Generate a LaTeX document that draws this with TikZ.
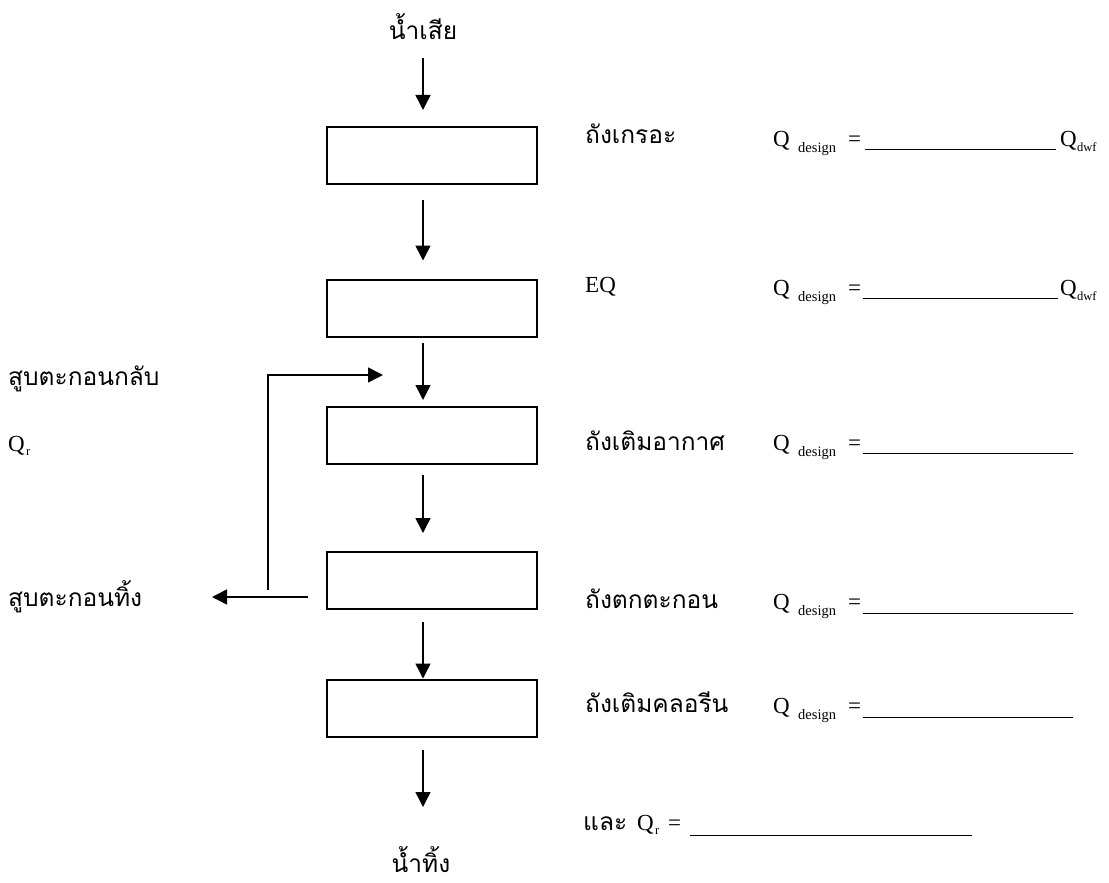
\documentclass[tikz,border=0pt]{standalone}
\usepackage{fontspec}
\setmainfont{Liberation Serif}
\newfontfamily\thai[Script=Thai]{Loma}
\usetikzlibrary{arrows.meta}
\newcommand\qdes[2]{%
  \node[lat] (#1q) at (773,#2) {Q};
  \node[subd] (#1s) at (798,{#2+6}) {design};
  \node[lat] (#1e) at (848,#2) {=};
}
\begin{document}
\begin{tikzpicture}[x=1pt,y=-1pt,
  tank/.style={draw, line width=2pt, minimum width=210pt, minimum height=57pt, inner sep=0pt, outer sep=0pt},
  flow/.style={line width=1.5pt, -{Triangle[length=15pt,width=15pt]}},
  pipe/.style={line width=1.5pt},
  th/.style={font=\thai\fontsize{24.5}{28}\selectfont, inner sep=0pt, anchor=base west},
  lat/.style={font=\fontsize{23}{27}\selectfont, inner sep=0pt, anchor=base west},
  subd/.style={font=\fontsize{14.5}{17}\selectfont, inner sep=0pt, anchor=base west},
  subs/.style={font=\fontsize{12.5}{14}\selectfont, inner sep=0pt, anchor=base west},
  blank/.style={line width=1pt}]
\useasboundingbox (0,0) rectangle (1109,883);
% tanks
\node[tank] (b1) at (432,155.5) {};
\node[tank] (b2) at (432,308) {};
\node[tank] (b3) at (432,435.5) {};
\node[tank] (b4) at (432,580.5) {};
\node[tank] (b5) at (432,708) {};
% in / out
\node[th, anchor=base] (inlbl) at (423,40) {น้ำเสีย};
\node[th, anchor=base] (outlbl) at (421,872) {น้ำทิ้ง};
\coordinate (src) at (423,58);
\coordinate (sink) at (423,807);
\draw[flow, shorten >=17pt] (src) -- (src |- b1.north);
\draw[flow, shorten <=16pt, shorten >=19pt] ([xshift=-9pt]b1.south) -- ([xshift=-9pt]b2.north);
\draw[flow, shorten <=6pt, shorten >=7pt] ([xshift=-9pt]b2.south) -- ([xshift=-9pt]b3.north);
\draw[flow, shorten <=11pt, shorten >=19pt] ([xshift=-9pt]b3.south) -- ([xshift=-9pt]b4.north);
\draw[flow, shorten <=13pt, shorten >=1pt] ([xshift=-9pt]b4.south) -- ([xshift=-9pt]b5.north);
\draw[flow, shorten <=13pt] (b5.south -| sink) -- (sink);
% sludge
\coordinate (wasteEnd) at (212,597);
\draw[flow, shorten <=19pt] (b4.west |- wasteEnd) -- (wasteEnd);
\coordinate (rbot) at (268,590);
\coordinate (rtop) at (268,375);
\coordinate (rtip) at (383,375);
\draw[pipe, -{Triangle[length=15pt,width=15pt]}] (rbot) -- (rtop) -- (rtip);
% left labels
\node[th] (ret) at (8,385) {สูบตะกอนกลับ};
\node[lat] (qrl) at (8,451) {Q};
\node[subs] (qrls) at (26,455) {r};
\node[th] (was) at (8,606) {สูบตะกอนทิ้ง};
% right labels
\node[th] (n1) at (585,143) {ถังเกรอะ};
\node[lat] (n2) at (585,292) {EQ};
\node[th] (n3) at (585,450) {ถังเติมอากาศ};
\node[th] (n4) at (585,608) {ถังตกตะกอน};
\node[th] (n5) at (585,712) {ถังเติมคลอรีน};
% design flows
\qdes{r1}{146}
\draw[blank] (865,149) -- (1056,149);
\node[lat] (r1d) at (1060,146) {Q};
\node[subs] (r1ds) at (1077,151) {dwf};
\qdes{r2}{295}
\draw[blank] (863,298) -- (1058,298);
\node[lat] (r2d) at (1060,295) {Q};
\node[subs] (r2ds) at (1077,300) {dwf};
\qdes{r3}{450}
\draw[blank] (863,453) -- (1073,453);
\qdes{r4}{609}
\draw[blank] (863,613) -- (1073,613);
\qdes{r5}{713}
\draw[blank] (863,717) -- (1073,717);
% Qr row
\node[th] (and) at (583,830) {และ};
\node[lat] (qr2) at (637,830) {Q};
\node[subs] (qr2s) at (655,834) {r};
\node[lat] (qr2e) at (668,830) {=};
\draw[blank] (690,835) -- (972,835);
\end{tikzpicture}
\end{document}
